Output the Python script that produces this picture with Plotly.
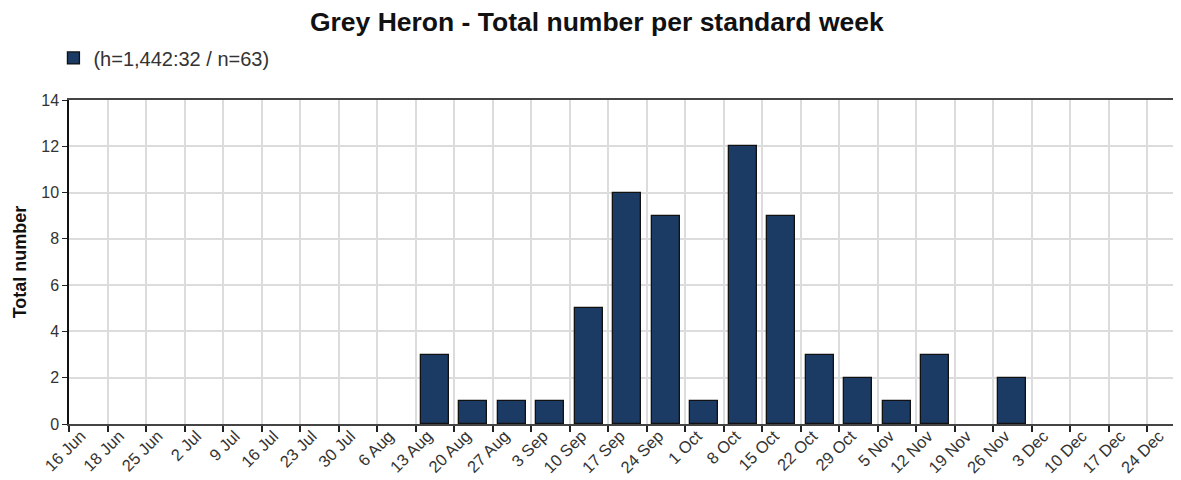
import plotly.graph_objects as go

# standard weeks (start dates) and bird counts
weeks = ['16 Jun', '18 Jun', '25 Jun', '2 Jul', '9 Jul', '16 Jul', '23 Jul', '30 Jul',
         '6 Aug', '13 Aug', '20 Aug', '27 Aug', '3 Sep', '10 Sep', '17 Sep', '24 Sep',
         '1 Oct', '8 Oct', '15 Oct', '22 Oct', '29 Oct', '5 Nov', '12 Nov', '19 Nov',
         '26 Nov', '3 Dec', '10 Dec', '17 Dec', '24 Dec']
counts = [0, 0, 0, 0, 0, 0, 0, 0,
          0, 3, 1, 1, 1, 5, 10, 9,
          1, 12, 9, 3, 2, 1, 3, 0,
          2, 0, 0, 0, 0]
y_ticks = [0, 2, 4, 6, 8, 10, 12, 14]

# bars sit in the interval following each week's tick; empty weeks drawn as nothing
x_pos = [i + 0.5 for i in range(len(weeks))]
y_vals = [c if c > 0 else None for c in counts]
tick_pos = list(range(len(weeks)))

fig = go.Figure()
fig.add_trace(go.Bar(
    x=x_pos,
    y=y_vals,
    width=0.72,
    name='(h=1,442:32 / n=63)',
    marker=dict(color='#1b3a64', line=dict(color='#111111', width=1.3)),
    showlegend=True,
))

# page body adds an 8px offset, so the figure is a bit smaller than the window
fig.update_layout(
    width=1173,
    height=472,
    margin=dict(l=61, r=0, t=92, b=56, autoexpand=False),
    paper_bgcolor='white',
    plot_bgcolor='white',
    font=dict(family='Liberation Sans, Arial, sans-serif', size=16, color='#333333'),
    title=dict(
        text='<b>Grey Heron - Total number per standard week</b>',
        x=0.502, xanchor='center', y=0.9716, yanchor='middle',
        font=dict(size=26.5, color='#111111'),
    ),
    legend=dict(
        x=-0.014, xanchor='left', y=1.13, yanchor='middle',
        font=dict(size=20, color='#333333'),
        itemwidth=30,
        bgcolor='rgba(0,0,0,0)',
    ),
    bargap=0,
)

fig.update_xaxes(
    range=[0, 28.88],
    tickmode='array',
    tickvals=tick_pos,
    ticktext=weeks,
    tickangle=-45,
    ticks='outside',
    ticklen=6,
    tickcolor='#222222',
    tickwidth=1.5,
    ticklabelshift=12,
    ticklabelstandoff=-12,
    showgrid=True,
    gridcolor='#dcdcdc',
    gridwidth=1.5,
    showline=True,
    linecolor='#444444',
    linewidth=2,
    mirror=True,
    zeroline=False,
    automargin=False,
    tickfont=dict(size=16.5, color='#333333'),
)

fig.update_yaxes(
    range=[0, 14],
    tickmode='array',
    tickvals=y_ticks,
    ticks='outside',
    ticklen=5,
    tickcolor='#222222',
    showgrid=True,
    gridcolor='#dcdcdc',
    gridwidth=1.5,
    showline=True,
    linecolor='#111111',
    linewidth=1.5,
    zeroline=False,
    automargin=False,
    title=dict(text='<b>Total number</b>', font=dict(size=18, color='#111111'), standoff=10),
    tickfont=dict(size=16, color='#333333'),
)

fig.write_html("out.html")
